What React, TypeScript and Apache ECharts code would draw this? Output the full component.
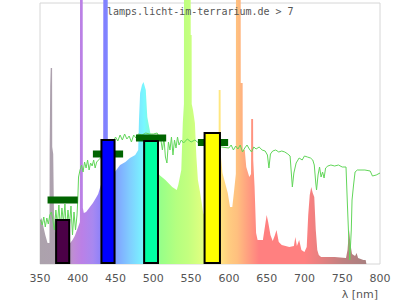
import React, { useEffect, useRef } from "react";
import * as echarts from "echarts";

// Lamp spectrum (wavelength nm, relative intensity)
const spectrumNm = [350,352,354,357,360,362.5,362.8,363.5,364.2,366,366.2,367.5,368.5,370,380,390,393,396,400,402.8,403,406.5,406.7,408,411,415,420,424,427,431,433.6,433.8,439.6,439.8,445,449,456,463,469,476,480,481,482.5,485,487,490,492,494,496,500,505,508,516,525,531,533,537,539,540.5,540.6,549.4,549.5,550.7,550.8,552.5,555,557,559,562,566,570,580,585,586.4,586.5,589,589.2,591.5,595,598.5,601.5,604.5,607,609.2,609.4,615.6,615.7,618.2,618.3,621,623,627,629.3,629.5,632,632.2,634,636,638,645,648,650,652,655,658,661,663,666,670,680,686,688,690,693,696,700,703,705,707,709,711,713,715,717,719,722,740,755,757,759,761,763,767,769,771,778,781,782];
const spectrumRel = [44,46,39,29,21,21,117,178,196,196,117,110,50,32,24,21,24,28,36,42,300,300,56,51,52,56,61,66,70,80,90,300,300,100,95,92,99,102,106,109,114,144,171,179,182,174,147,139,131,110,95,89,84,77,74,79,94,141,160,300,300,229,229,160,154,141,107,84,71,51,45,40,55,60,174,174,110,91,81,71,57,57,74,90,300,300,181,181,114,114,97,87,90,145,145,104,77,31,24,24,39,49,42,29,23,29,34,22,19,17,18,27,18,24,14,12,17,49,69,77,71,67,34,14,9,7,7,6,14,34,19,10,8,11,6,4,4,0];

// Transmission curve (wavelength nm, relative value)
const transNm = [351,353,355,357,359,361,363,365,367,369,371,373,375,377,379,381,383,385,387,389,391,393,395,397,399,400,401,403,405,407,409,411,413,415,417,419,421,423,425,430,440,448,450,453,456,459,462,465,468,471,474,477,480,485,490,495,500,505,510,512,514,516,518,520,522,524,526,528,530,532,534,537,540,545,550,555,560,570,580,590,600,603,606,609,612,615,618,621,624,627,630,633,636,640,644,648,651,653,655,658,662,666,670,674,678,681,684,686,689,693,697,700,704,708,711,713,715,716,718,720,722,724,726,728,731,735,740,745,750,755,757,759,760,762,763,765,767,770,780,787,790,795,800];
const transRel = [44,39,47,37,46,40,49,52,44,34,54,39,59,36,56,42,60,32,54,39,58,29,52,34,49,64,87,94,99,92,102,96,104,94,101,98,104,96,102,106,116,124,127,123,129,124,130,125,128,122,129,126,130,129,131,130,130,131,124,114,126,107,101,122,114,127,109,124,116,127,119,124,121,125,122,124,121,119,118,117,116,119,114,118,115,119,112,116,119,115,112,117,115,117,114,113,109,96,110,113,114,112,113,112,110,108,77,91,101,106,104,108,107,106,104,99,81,74,89,97,87,92,86,96,98,99,98,99,97,97,57,19,4,34,64,79,92,94,94,93,88,89,91];

// LED bands: centre (nm), value, band width (nm)
const bandCenters = [380, 440, 497, 578];
const bandValues = [44, 124, 123, 131];
const bandWidths = [20, 20, 21, 23];

// Reference markers: centre (nm), value
const markCenters = [380, 440, 497, 579];
const markValues = [64, 110, 126, 121.5];

const xTicks = { min: 350, max: 800, interval: 50 };

const bandColors = ["#4b0047", "#0000ff", "#00ffa2", "#ffff00"];
const spectrumColors: [number, string][] = [
  [350, "#aca2ac"], [385, "#aea0b0"], [395, "#c08ad8"], [405, "#bb80e6"],
  [420, "#a888f0"], [436, "#8080ff"], [450, "#80a0ff"], [470, "#80d0ff"],
  [488, "#78f8ff"], [500, "#88ffb8"], [510, "#98ff88"], [530, "#b4ff80"],
  [546, "#c3ff7f"], [570, "#e8ff80"], [587, "#ffe880"], [600, "#ffcc80"],
  [611, "#ffc07f"], [625, "#ffa080"], [640, "#ff8080"], [700, "#ff8080"],
  [720, "#e88080"], [750, "#c08080"], [782, "#a88080"],
];

export default function App() {
  const ref = useRef<HTMLDivElement>(null);
  useEffect(() => {
    if (!ref.current) return;
    const chart = echarts.init(ref.current, null, { renderer: "svg" });
    const lo = spectrumNm[0];
    const hi = spectrumNm[spectrumNm.length - 1];
    const stops = spectrumColors.map(([l, c]) => ({ offset: (l - lo) / (hi - lo), color: c }));
    const spectrumData = spectrumNm.map((l, i) => [l, spectrumRel[i]]);
    const transData = transNm.map((l, i) => [l, transRel[i]]);
    const bandData = bandCenters.map((c, i) => [c, bandValues[i], bandWidths[i]]);
    const markData = markCenters.map((c, i) => [c, markValues[i]]);

    chart.setOption({
      animation: false,
      title: {
        text: "lamps.licht-im-terrarium.de > 7",
        left: 107,
        top: 6,
        padding: 0,
        textStyle: { fontFamily: "DejaVu Sans Mono", fontSize: 10, fontWeight: "normal", color: "#555" },
      },
      grid: { left: 40, right: 20, top: 3, bottom: 36, show: true, borderColor: "#d6d6d6", borderWidth: 1 },
      xAxis: {
        type: "value",
        min: xTicks.min,
        max: xTicks.max,
        interval: xTicks.interval,
        axisLine: { show: false },
        axisTick: { show: false },
        splitLine: { show: false },
        axisLabel: { color: "#555", fontSize: 11, fontFamily: "DejaVu Sans", margin: 9 },
      },
      yAxis: { type: "value", min: 0, max: 261, show: false },
      graphic: [
        {
          type: "text",
          right: 22,
          top: 289,
          style: { text: "λ [nm]", fill: "#555", font: '11px "DejaVu Sans"' },
        },
      ],
      series: [
        {
          type: "line",
          data: spectrumData,
          showSymbol: false,
          clip: false,
          z: 1,
          lineStyle: { width: 0, opacity: 0 },
          areaStyle: { opacity: 1, color: new echarts.graphic.LinearGradient(0, 0, 1, 0, stops) },
        },
        {
          type: "line",
          data: transData,
          showSymbol: false,
          z: 2,
          lineStyle: { width: 1, color: "#62d65a" },
        },
        {
          type: "custom",
          z: 3,
          data: markData,
          renderItem: (params: any, api: any) => {
            const c = api.value(0);
            const v = api.value(1);
            const p1 = api.coord([c - 20, v]);
            const p2 = api.coord([c + 20, v]);
            return {
              type: "rect",
              shape: { x: p1[0], y: p1[1] - 3.5, width: p2[0] - p1[0], height: 7 },
              style: { fill: "#006400" },
            };
          },
        },
        {
          type: "custom",
          z: 4,
          data: bandData,
          renderItem: (params: any, api: any) => {
            const c = api.value(0);
            const v = api.value(1);
            const w = api.value(2);
            const p1 = api.coord([c - w / 2, v]);
            const p2 = api.coord([c + w / 2, 0]);
            return {
              type: "rect",
              shape: { x: p1[0] + 1, y: p1[1], width: p2[0] - p1[0] - 2, height: p2[1] - p1[1] - 1 },
              style: { fill: bandColors[params.dataIndex], stroke: "#000", lineWidth: 2 },
            };
          },
        },
      ],
    });
    return () => chart.dispose();
  }, []);
  return <div ref={ref} style={{ position: "absolute", left: 0, top: 0, width: 400, height: 300 }} />;
}
